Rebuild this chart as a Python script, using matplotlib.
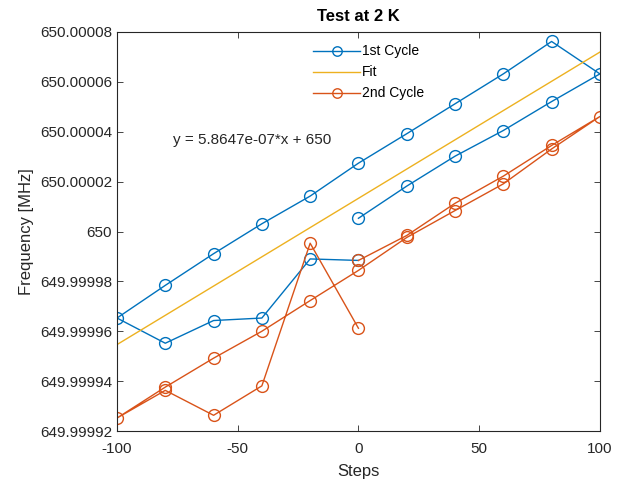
import numpy as np
import matplotlib.pyplot as plt
from matplotlib.ticker import FuncFormatter

# datos (frecuencia en MHz)
pasos_1 = [0, 20, 40, 60, 80, 100, 80, 60, 40, 20, 0, -20, -40, -60, -80, -100,
           -80, -60, -40, -20, 0]
freq_1 = [650.0000053, 650.0000182, 650.0000302, 650.0000405, 650.0000521,
          650.0000632, 650.0000762, 650.0000632, 650.0000512, 650.0000392,
          650.0000274, 650.0000142, 650.0000031, 649.9999911, 649.9999784,
          649.9999653, 649.9999552, 649.9999643, 649.9999653, 649.9999890,
          649.9999884]

pasos_2 = [0, 20, 40, 60, 80, 100, 80, 60, 40, 20, 0, -20, -40, -60, -80, -100,
           -80, -60, -40, -20, 0]
freq_2 = [649.9999884, 649.9999984, 650.0000113, 650.0000222, 650.0000345,
          650.0000461, 650.0000331, 650.0000191, 650.0000084, 649.9999976,
          649.9999844, 649.9999723, 649.9999600, 649.9999492, 649.9999376,
          649.9999252, 649.9999363, 649.9999263, 649.9999381, 649.9999953,
          649.9999612]

# ajuste lineal
pendiente = 5.8647e-07
ordenada = 650.0000133
x_fit = np.array([-100, 100])

azul = '#0072BD'
naranja = '#D95319'
amarillo = '#EDB120'

plt.rcParams['font.family'] = ['Liberation Sans', 'DejaVu Sans']
plt.rcParams['axes.unicode_minus'] = False

fig = plt.figure(figsize=(6.21, 4.79), dpi=100)
ax = fig.add_axes([0.1884, 0.1002, 0.7776, 0.833])

ax.plot(pasos_1, freq_1, '-o', color=azul, lw=1, ms=8.5, mfc='none', mew=1,
        label='1st Cycle')
ax.plot(x_fit, pendiente * x_fit + ordenada, '-', color=amarillo, lw=1, label='Fit')
ax.plot(pasos_2, freq_2, '-o', color=naranja, lw=1, ms=8.5, mfc='none', mew=1,
        label='2nd Cycle')

ax.text(-77, 650.0000365, 'y = 5.8647e-07*x + 650', fontsize=11,
        va='center', ha='left', color='#262626')

ax.set_xlim(-100, 100)
ax.set_ylim(649.99992, 650.00008)
ax.set_xticks([-100, -50, 0, 50, 100])
ax.set_yticks(np.linspace(649.99992, 650.00008, 9))
ax.yaxis.set_major_formatter(FuncFormatter(lambda v, p: '{:.8g}'.format(v)))

ax.tick_params(direction='in', top=True, right=True, labelsize=11,
               colors='#262626', length=4, width=0.6)
ax.tick_params(axis='x', pad=8)
for s in ax.spines.values():
    s.set_color('#262626')
    s.set_linewidth(0.8)

ax.set_title('Test at 2 K', fontsize=12, fontweight='bold', color='#000000', pad=8)
ax.set_xlabel('Steps', fontsize=12, color='#262626', labelpad=6)
ax.set_ylabel('Frequency [MHz]', fontsize=12, color='#262626')

leg = ax.legend(loc='upper left', bbox_to_anchor=(0.38, 1.0), frameon=False,
                fontsize=10, handlelength=3.4, handletextpad=0.15,
                labelspacing=0.5, markerscale=0.8)

fig.savefig('out.png', dpi=100)
